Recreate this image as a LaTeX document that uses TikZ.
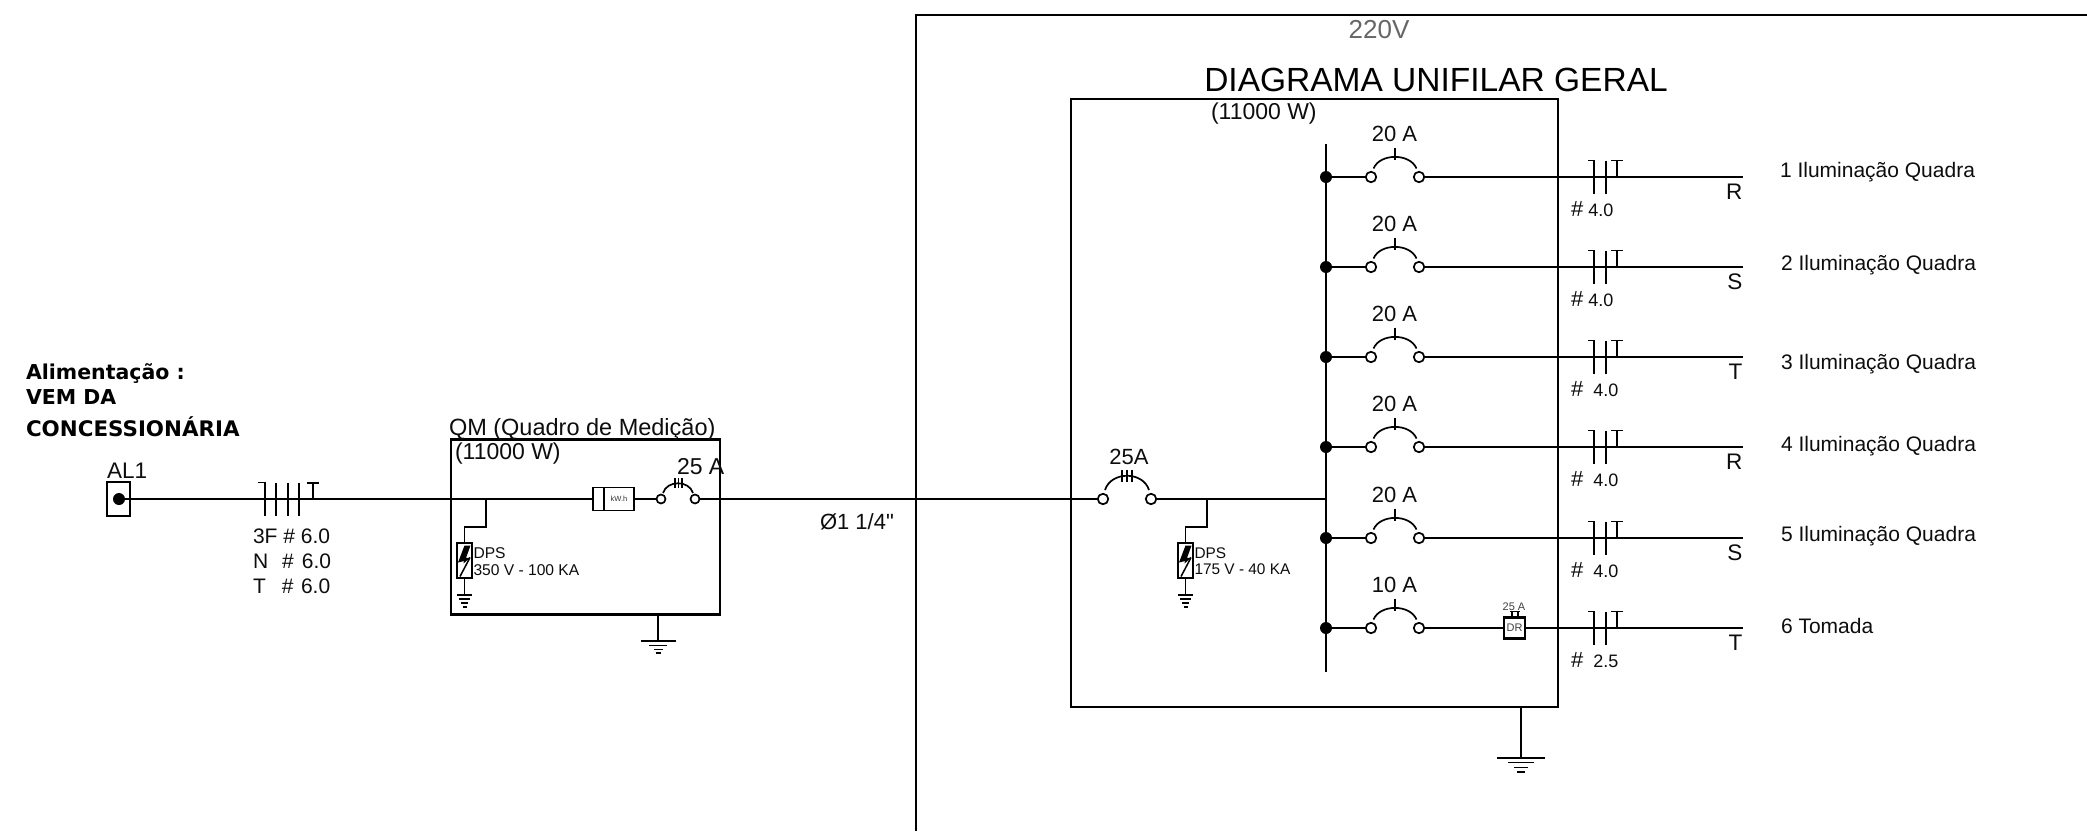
\documentclass[tikz,border=0pt]{standalone}
\usepackage{fontspec}
\setmainfont{Liberation Sans}
\newfontfamily\plainf{Liberation Sans}
\newfontfamily\boldlabel{DejaVu Sans}[Scale=1]
\tikzset{
  x=1pt,y=-1pt,
  wire/.style={line width=2.1pt,black},
  thinwire/.style={line width=1.7pt,black},
  frame/.style={line width=2pt,black},
  txt/.style={inner sep=0pt,outer sep=0pt,anchor=west,text=black!95},
  term/.style={circle,draw=black,fill=white,line width=1.7pt,minimum size=10.5pt,inner sep=0pt},
  smallterm/.style={circle,draw=black,fill=white,line width=1.7pt,minimum size=9pt,inner sep=0pt},
  junction/.style={circle,fill=black,minimum size=12pt,inner sep=0pt},
  dpsbox/.style={draw=black,fill=white,line width=2.1pt,minimum width=15pt,minimum height=35pt,inner sep=0pt},
  drbox/.style={draw=black,fill=white,line width=2.1pt,minimum width=21pt,minimum height=21pt,inner sep=0pt,font=\fontsize{11}{11}\selectfont,text=black!75},
  kwhbox/.style={draw=black,fill=white,line width=1.6pt,minimum width=41pt,minimum height=23pt,inner sep=0pt},
}
\newcommand{\GroundSmall}[2]{% name, dps bottom node
  \coordinate (#1) at ([yshift=-16pt]#2.south);
  \draw[thinwire] (#2.south) -- (#1);
  \draw[line width=1.6pt] ([xshift=-7.5pt]#1) -- ([xshift=7.5pt]#1);
  \draw[line width=1.6pt] ([xshift=-5.5pt,yshift=-4pt]#1) -- ([xshift=5.5pt,yshift=-4pt]#1);
  \draw[line width=1.6pt] ([xshift=-3.5pt,yshift=-8pt]#1) -- ([xshift=3.5pt,yshift=-8pt]#1);
  \draw[line width=1.6pt] ([xshift=-2pt,yshift=-12pt]#1) -- ([xshift=2pt,yshift=-12pt]#1);
}
\newcommand{\Bolt}[1]{% lightning inside DPS box
  \begin{scope}[shift={(#1)}]
    \fill[black] (6,-15) -- (0,-15) -- (-6.5,2) -- (-0.5,0.5) -- (-1,3) -- (6,-3) -- (1.5,-2.5) -- cycle;
    \draw[line width=1.5pt] (5.5,-3) -- (-4.5,16);
  \end{scope}
}
% row: index, y, breaker text, end letter, gauge text, label x, label y, label
\newcommand{\Row}[8]{%
  \node[junction] (j#1) at (1326,#2) {};
  \node[term] (ba#1) at (1371,#2) {};
  \node[term] (bb#1) at (1419,#2) {};
  \coordinate (end#1) at (1743,#2);
  \draw[wire] (j#1) -- (ba#1);
  \draw[thinwire] (1373.5,#2-8.5) .. controls (1380,#2-24) and (1410,#2-24) .. (1416.5,#2-8.5);
  \draw[thinwire] (1395,#2-29.5) -- (1395,#2-17);
  \node[anchor=center,inner sep=0pt,font=\fontsize{22}{22}\selectfont,text=black!95] (ba#1l) at (1394.5,#2-43) {#3};
  \draw[thinwire] (1588,#2-16.5) -- (1594,#2-16.5) -- (1594,#2+16.5);
  \draw[thinwire] (1606,#2-16.5) -- (1606,#2+16.5);
  \draw[thinwire] (1611,#2-16.5) -- (1623,#2-16.5);
  \draw[thinwire] (1617,#2-16.5) -- (1617,#2);
  \node[anchor=east,inner sep=0pt,font=\fontsize{22.5}{22.5}\selectfont,text=black!95] (let#1) at (1742.5,#2+15) {#4};
  \node[txt] (g#1) at (1571,#2+32) {#5};
  \node[txt,font=\fontsize{21}{21}\selectfont] (lab#1) at (#6,#7) {#8};
}
\newcommand{\G}[1]{{\fontsize{22}{22}\selectfont \#}\hspace{5pt}{\fontsize{18}{18}\selectfont #1}}
\newcommand{\GW}[1]{{\fontsize{22}{22}\selectfont \#}\hspace{10pt}{\fontsize{18}{18}\selectfont #1}}
\begin{document}
\begin{tikzpicture}
\useasboundingbox (0,0) rectangle (2087,831);
\fill[white] (0,0) rectangle (2087,831);

% outer frame
\coordinate (fa) at (916,831);
\coordinate (fb) at (916,15);
\coordinate (fc) at (2087,15);
\draw[frame] (fa) -- (fb) -- (fc);
\node[anchor=center,inner sep=0pt,font=\fontsize{26}{26}\selectfont,text=black!60] (v220) at (1379,30) {220V};
\node[anchor=center,inner sep=0pt,font=\fontsize{33.5}{33.5}\selectfont,text=black] (title) at (1436,80) {DIAGRAMA UNIFILAR GERAL};

% inner panel
\node[draw=black,line width=2pt,fill=none,anchor=north west,minimum width=486.5pt,minimum height=608.5pt,inner sep=0pt,outer sep=0pt] (qd) at (1071.3,98.5) {};
\node[txt,font=\fontsize{23}{23}\selectfont] (qdw) at (1211,113.5) {(11000 W)};

% bus
\coordinate (bt) at (1326,144);
\coordinate (bb) at (1326,672);
\draw[wire] (bt) -- (bb);

% left text
\node[txt,font=\boldlabel\bfseries\fontsize{20.5}{20.5}\selectfont,text=black] (t1) at (26,374) {Alimentação :};
\node[txt,font=\boldlabel\bfseries\fontsize{20.5}{20.5}\selectfont,text=black] (t2) at (26,397) {VEM DA};
\node[txt,font=\boldlabel\bfseries\fontsize{21.4}{21.4}\selectfont,text=black] (t3) at (26,426.5) {CONCESSIONÁRIA};

% AL1
\node[draw=black,line width=1.7pt,minimum width=23pt,minimum height=34pt,inner sep=0pt] (al) at (118.5,499) {};
\node[circle,fill=black,minimum size=12pt,inner sep=0pt] (aldot) at (119,499) {};
\node[txt,font=\fontsize{22.5}{22.5}\selectfont] (allab) at (107,470.5) {AL1};

% QM panel
\node[draw=black,line width=2.6pt,anchor=north west,minimum width=269pt,minimum height=175pt,inner sep=0pt,outer sep=0pt] (qm) at (451,439.3) {};
\node[txt,font=\fontsize{23.5}{23.5}\selectfont] (qmt) at (449,429) {QM (Quadro de Medição)};
\node[txt,font=\fontsize{23}{23}\selectfont] (qmw) at (455,453.5) {(11000 W)};
\node[txt,font=\fontsize{23}{23}\selectfont] (qma) at (677,467) {25 A};

% main wire AL1 - meter
\node[kwhbox] (kwh) at (613.5,499) {};
\draw[line width=1.6pt] (604,487.5) -- (604,510.5);
\node[inner sep=0pt,font=\fontsize{7.5}{7.5}\selectfont,text=black!80] (kwht) at (619,499) {kW.h};
\node[smallterm] (qma1) at (661,499) {};
\node[smallterm] (qma2) at (695,499) {};
\draw[wire] (aldot) -- (kwh);
\draw[wire] (kwh) -- (qma1);
\draw[thinwire] (663,493) .. controls (667,480) and (689,480) .. (693,493);
\draw[line width=1.4pt] (675,478) -- (675,488) (678.5,478) -- (678.5,488) (682,478) -- (682,488);

% cable ticks on feed
\draw[thinwire] (258,482.5) -- (265,482.5) -- (265,516);
\draw[thinwire] (276,482.5) -- (276,516);
\draw[thinwire] (288,482.5) -- (288,516);
\draw[thinwire] (299,482.5) -- (299,516);
\draw[thinwire] (307,483) -- (319,483);
\draw[thinwire] (313,483) -- (313,499);
\node[txt,font=\fontsize{21}{21}\selectfont] (c1) at (253,536) {3F \# 6.0};
\node[txt,font=\fontsize{21}{21}\selectfont] (c2) at (253,561) {N\hspace{14pt}\#\hspace{8pt}6.0};
\node[txt,font=\fontsize{21}{21}\selectfont] (c3) at (253,586) {T\hspace{16pt}\#\hspace{7.5pt}6.0};

% QM DPS
\node[dpsbox] (dps1) at (464.5,560.5) {};
\coordinate (tap1) at (486,499);
\coordinate (tap1b) at (486,527);
\coordinate (tap1c) at (464.5,527);
\draw[thinwire] (tap1) -- (tap1b) -- (tap1c) -- (dps1.north);
\Bolt{464.5,560.5}
\GroundSmall{g1}{dps1}
\node[txt,font=\fontsize{15.6}{15.6}\selectfont] (d1a) at (473.5,553) {DPS};
\node[txt,font=\fontsize{15.6}{15.6}\selectfont] (d1b) at (473.5,570) {350 V - 100 KA};

% QM ground
\coordinate (qg) at (658,641);
\draw[thinwire] (658,614) -- (qg);
\draw[line width=1.6pt] (640.5,641) -- (675.5,641);
\draw[line width=1.6pt] (649,645.5) -- (667,645.5);
\draw[line width=1.6pt] (654,649.5) -- (663,649.5);
\draw[line width=1.6pt] (655.5,653) -- (661,653);

% feed to QD breaker
\node[term] (qda) at (1103,499) {};
\node[term] (qdb) at (1151,499) {};
\draw[wire] (qma2) -- (qda);
\draw[wire] (qdb) -- (1326,499);
\draw[thinwire] (1105,490) .. controls (1111,471) and (1143,471) .. (1149,490);
\draw[line width=1.4pt] (1122,470) -- (1122,482) (1127,470) -- (1127,482) (1132,470) -- (1132,482);
\node[inner sep=0pt,font=\fontsize{22}{22}\selectfont,text=black!95] (qdl) at (1129,457) {25A};
\node[txt,font=\plainf\fontsize{22}{22}\selectfont] (dia) at (820,522) {Ø1 1/4"};

% QD DPS
\node[dpsbox] (dps2) at (1185.5,560.5) {};
\coordinate (tap2) at (1207,499);
\coordinate (tap2b) at (1207,527);
\coordinate (tap2c) at (1185.5,527);
\draw[thinwire] (tap2) -- (tap2b) -- (tap2c) -- (dps2.north);
\Bolt{1185.5,560.5}
\GroundSmall{g2}{dps2}
\node[txt,font=\fontsize{15.4}{15.4}\selectfont] (d2a) at (1194.5,553) {DPS};
\node[txt,font=\fontsize{15.4}{15.4}\selectfont] (d2b) at (1194.5,569) {175 V - 40 KA};

% QD ground
\coordinate (qdg) at (1521,758);
\draw[thinwire] (1521,707) -- (qdg);
\draw[line width=1.8pt] (1497,758) -- (1545,758);
\draw[line width=1.8pt] (1508,762.5) -- (1534,762.5);
\draw[line width=1.8pt] (1514,767.5) -- (1528,767.5);
\draw[line width=1.8pt] (1517,772) -- (1525,772);

% circuits
\Row{1}{177}{20 A}{R}{\G{4.0}}{1780}{172}{1 Iluminação Quadra}
\Row{2}{267}{20 A}{S}{\G{4.0}}{1781}{265}{2 Iluminação Quadra}
\Row{3}{357}{20 A}{T}{\GW{4.0}}{1781}{364}{3 Iluminação Quadra}
\Row{4}{447}{20 A}{R}{\GW{4.0}}{1781}{446}{4 Iluminação Quadra}
\Row{5}{538}{20 A}{S}{\GW{4.0}}{1781}{536}{5 Iluminação Quadra}
\Row{6}{628}{10 A}{T}{\GW{2.5}}{1781}{626}{6 Tomada}
\foreach \i in {1,...,5}{\draw[wire] (bb\i) -- (end\i);}
% DR
\node[drbox] (dr) at (1514.5,628) {\raisebox{1pt}{DR}};
\draw[wire] (bb6) -- (dr);
\draw[wire] (dr) -- (end6);
\draw[thinwire] (1512,617) -- (1512,611.5) (1518,617) -- (1518,611.5) (1510,611.5) -- (1520,611.5);
\node[inner sep=0pt,font=\fontsize{11}{11}\selectfont,text=black!75] (drl) at (1514,607) {25 A};
\end{tikzpicture}
\end{document}
